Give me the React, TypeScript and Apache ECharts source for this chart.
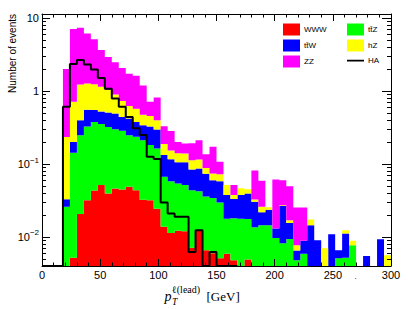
import React, { useEffect, useRef } from 'react';
import * as echarts from 'echarts';

// Histogram binning: 50 bins of 6 GeV from 0 to 300
const BIN_WIDTH = 6;
const X_MIN = 0;
const X_MAX = 300;
const Y_MIN = 0.004;
const Y_MAX = 11.4;

// Stacked backgrounds (bottom to top): WWW, ttZ, ttW, hZ, ZZ
const WWW = [0, 0, 0, 0, 0.0052, 0.0207, 0.032, 0.0434, 0.0514, 0.0395,
  0.0463, 0.0448, 0.0487, 0.0438, 0.0323, 0.032, 0.0243, 0.0138, 0.0113, 0.0122,
  0.012, 0.0071, 0.0124, 0.0066, 0.006, 0.0051, 0.0059, 0.0048, 0, 0.0049,
  0, 0, 0, 0, 0, 0, 0, 0, 0, 0,
  0, 0, 0, 0, 0, 0, 0, 0, 0, 0];
const TTZ = [0, 0, 0, 0.0259, 0.138, 0.228, 0.294, 0.333, 0.302, 0.282,
  0.253, 0.242, 0.2, 0.192, 0.18, 0.15, 0.139, 0.0529, 0.047, 0.042,
  0.0394, 0.0367, 0.0301, 0.0293, 0.0283, 0.0245, 0.0119, 0.0133, 0.0178, 0.0128,
  0.0136, 0.0145, 0.0145, 0.0097, 0.0082, 0.0094, 0.0048, 0.0059, 0, 0,
  0, 0, 0.0051, 0.0052, 0.0077, 0, 0, 0, 0, 0];
const TTW = [0, 0, 0, 0.0071, 0.0565, 0.151, 0.231, 0.173, 0.17, 0.186,
  0.192, 0.153, 0.173, 0.14, 0.129, 0.146, 0.134, 0.0658, 0.0584, 0.0513,
  0.0541, 0.0405, 0.0445, 0.0375, 0.0258, 0.0287, 0.0197, 0.0151, 0.0197, 0.0218,
  0.0167, 0.0074, 0.0092, 0.0034, 0.0183, 0.0062, 0.0017, 0.003, 0.0145, 0.009,
  0, 0.0109, 0.0015, 0.006, 0, 0, 0.0055, 0, 0.0093, 0];
const HZ = [0, 0, 0, 0.201, 0.513, 0.836, 0.71, 0.687, 0.619, 0.525,
  0.404, 0.289, 0.201, 0.199, 0.131, 0.126, 0.102, 0.055, 0.037, 0.0356,
  0.0342, 0.0288, 0.0286, 0.015, 0.0142, 0.0144, 0.0139, 0.0043, 0.0092, 0.0057,
  0.0023, 0.0041, 0.0019, 0, 0.0008, 0.0014, 0.0012, 0, 0.0029, 0,
  0.007, 0, 0, 0.0012, 0.0012, 0, 0, 0, 0, 0.0056];
const ZZ = [0, 0, 0, 1.77, 6.39, 6.15, 4.88, 3.9, 2.53, 1.9,
  1.59, 1.34, 1.11, 1.05, 0.717, 0.259, 0.42, 0.141, 0.13, 0.06,
  0.052, 0.08, 0.097, 0.048, 0.098, 0.0345, 0, 0.0139, 0, 0,
  0.049, 0.0332, 0, 0.0484, 0.0328, 0.0327, 0.0177, 0.0164, 0, 0,
  0, 0, 0, 0, 0, 0, 0, 0, 0, 0];
// Signal (line), bins 0..27
const HA = [0, 0, 0, 0.61, 2.35, 2.66, 2.31, 1.97, 1.51, 1.08,
  0.79, 0.61, 0.44, 0.31, 0.25, 0.126, 0.117, 0.0296, 0.021, 0.0189,
  0.0189, 0.0062, 0.0124, 0, 0.0062, 0, 0, 0];

const X_TICK_INTERVAL = 50;
const Y_MINOR_MANTISSAS = [2, 3, 4, 5, 6, 7, 8, 9];
const Y_DECADES = [-3, -2, -1, 0, 1];

const FONT = '"Liberation Sans", Arial, Helvetica, sans-serif';
const SERIF = '"Liberation Serif", "Times New Roman", serif';

// legend icon for the line entry: a thin horizontal bar centred in the item box
const LINE_ICON = 'path://M0,0L0.01,0L0,0.01Z M0,5L20,5L20,7L0,7Z M19.99,12L20,12L20,11.99Z';

const LAYERS = [
  { name: 'WWW', data: WWW, color: '#ff0000' },
  { name: 'tt\u0304Z', data: TTZ, color: '#00ff00' },
  { name: 'tt\u0304W', data: TTW, color: '#0000ff' },
  { name: 'hZ', data: HZ, color: '#ffff00' },
  { name: 'ZZ', data: ZZ, color: '#ff00ff' },
];

export default function App() {
  const ref = useRef<HTMLDivElement>(null);

  useEffect(() => {
    document.body.style.margin = '0';
    if (!ref.current) return;
    const chart = echarts.init(ref.current, undefined, { renderer: 'svg' });

    const nBins = WWW.length;
    const bases: number[][] = [];
    const tops: number[][] = [];
    let cum = new Array(nBins).fill(0);
    LAYERS.forEach((l, k) => {
      bases[k] = cum.slice();
      cum = cum.map((c, i) => c + l.data[i]);
      tops[k] = cum.slice();
    });
    const clamp = (v: number) => Math.min(Y_MAX, Math.max(Y_MIN, v));

    const layerSeries = LAYERS.map((l, k) => ({
      type: 'custom',
      name: l.name,
      data: [[X_MIN, Y_MIN]],
      itemStyle: { color: l.color },
      z: 2,
      renderItem: (_params: any, api: any) => {
        const pts: number[][] = [];
        for (let i = 0; i < nBins; i++) {
          const x0 = i * BIN_WIDTH;
          const t = clamp(tops[k][i]);
          pts.push(api.coord([x0, t]), api.coord([x0 + BIN_WIDTH, t]));
        }
        for (let i = nBins - 1; i >= 0; i--) {
          const x0 = i * BIN_WIDTH;
          const b = clamp(bases[k][i]);
          pts.push(api.coord([x0 + BIN_WIDTH, b]), api.coord([x0, b]));
        }
        return { type: 'polygon', shape: { points: pts }, style: { fill: l.color } };
      },
    }));

    const haPoints: number[][] = [];
    HA.forEach((v, i) => {
      const y = clamp(v);
      haPoints.push([i * BIN_WIDTH, y], [(i + 1) * BIN_WIDTH, y]);
    });

    const minorVals: number[][] = [];
    Y_DECADES.forEach((d) => Y_MINOR_MANTISSAS.forEach((m) => {
      const v = m * Math.pow(10, d);
      if (v > Y_MIN && v < Y_MAX) minorVals.push([X_MIN, v]);
    }));

    const yLabel = (v: number) => {
      const lg = Math.log10(v);
      const e = Math.round(lg);
      if (Math.abs(lg - e) > 1e-6) return '';
      if (e === 0) return '1';
      if (e === 1) return '10';
      return `{b|10}{s|\u2212${-e}}`;
    };

    const xAxisBase = {
      type: 'value',
      min: X_MIN,
      max: X_MAX,
      interval: X_TICK_INTERVAL,
      z: 20,
      axisLine: { show: true, onZero: false, lineStyle: { color: '#000', width: 1 } },
      axisTick: { show: true, inside: true, length: 7, lineStyle: { color: '#000', width: 1 } },
      minorTick: { show: true, splitNumber: 5, length: 3.5, lineStyle: { color: '#000', width: 1 } },
      splitLine: { show: false },
      minorSplitLine: { show: false },
    };
    const yAxisBase = {
      type: 'log',
      logBase: 10,
      min: Y_MIN,
      max: Y_MAX,
      z: 20,
      axisLine: { show: true, onZero: false, lineStyle: { color: '#000', width: 1 } },
      axisTick: { show: true, inside: true, length: 8, lineStyle: { color: '#000', width: 1 } },
      splitLine: { show: false },
    };

    const legendCommon = {
      orient: 'vertical', top: 23.5, padding: 0,
      itemWidth: 17, itemHeight: 12, itemGap: 4,
      selectedMode: false,
      textStyle: { fontSize: 8, color: '#000', fontFamily: FONT, padding: [0, 0, 0, -1] },
    };

    chart.setOption({
      animation: false,
      backgroundColor: '#fff',
      grid: { left: 42, right: 17, top: 14, bottom: 43, containLabel: false },
      xAxis: [
        {
          ...xAxisBase,
          position: 'bottom',
          axisLabel: { show: true, color: '#000', fontSize: 11, fontFamily: FONT, margin: 3 },
        },
        { ...xAxisBase, position: 'top', axisLabel: { show: false } },
      ],
      yAxis: [
        {
          ...yAxisBase,
          position: 'left',
          axisLabel: {
            show: true,
            color: '#000',
            fontSize: 11,
            fontFamily: FONT,
            margin: 3,
            showMinLabel: false,
            showMaxLabel: false,
            formatter: yLabel,
            rich: {
              b: { fontSize: 11, fontFamily: FONT, color: '#000', lineHeight: 16 },
              s: { fontSize: 8, fontFamily: FONT, color: '#000', lineHeight: 8, verticalAlign: 'top' },
            },
          },
        },
        { ...yAxisBase, position: 'right', axisTick: { ...yAxisBase.axisTick, length: 9 }, axisLabel: { show: false } },
      ],
      legend: [
        {
          ...legendCommon,
          left: 283,
          data: [
            { name: 'WWW', icon: 'rect' },
            { name: 'tt\u0304W', icon: 'rect' },
            { name: 'ZZ', icon: 'rect' },
          ],
        },
        {
          ...legendCommon,
          left: 347,
          data: [
            { name: 'tt\u0304Z', icon: 'rect' },
            { name: 'hZ', icon: 'rect' },
            { name: 'HA', icon: LINE_ICON },
          ],
        },
      ],
      series: [
        ...layerSeries,
        {
          type: 'line',
          name: 'HA',
          data: haPoints,
          symbol: 'none',
          z: 10,
          clip: true,
          lineStyle: { color: '#000', width: 2 },
          itemStyle: { color: '#000' },
        },
        {
          type: 'custom',
          name: 'yMinorTicks',
          data: minorVals,
          silent: true,
          z: 20,
          renderItem: (_params: any, api: any) => {
            const v = api.value(1);
            const pl = api.coord([X_MIN, v]);
            const pr = api.coord([X_MAX, v]);
            const y = Math.round(pl[1]) + 0.5;
            return {
              type: 'group',
              children: [
                { type: 'line', shape: { x1: pl[0], y1: y, x2: pl[0] + 4, y2: y }, style: { stroke: '#000', lineWidth: 1 } },
                { type: 'line', shape: { x1: pr[0] - 4, y1: y, x2: pr[0], y2: y }, style: { stroke: '#000', lineWidth: 1 } },
              ],
            };
          },
        },
      ],
      graphic: [
        {
          type: 'text', x: 12, y: 14, rotation: Math.PI / 2,
          style: { text: 'Number of events', font: `10px ${FONT}`, fill: '#000', align: 'right', verticalAlign: 'middle' },
        },
        {
          type: 'text', x: 164.5, y: 296,
          style: { text: 'p', font: `italic 14px ${SERIF}`, fill: '#000', align: 'left', verticalAlign: 'middle' },
        },
        {
          type: 'text', x: 172, y: 301.5,
          style: { text: 'T', font: `italic 9.5px ${SERIF}`, fill: '#000', align: 'left', verticalAlign: 'middle' },
        },
        {
          type: 'text', x: 172, y: 289.5,
          style: { text: '\u2113(lead)', font: `10px ${SERIF}`, fill: '#000', align: 'left', verticalAlign: 'middle' },
        },
        {
          type: 'text', x: 206.5, y: 296,
          style: { text: '[GeV]', font: `13px ${SERIF}`, fill: '#000', align: 'left', verticalAlign: 'middle' },
        },
        {
          type: 'text', x: 355.7, y: 280.5,
          style: { text: '.', font: `8px ${FONT}`, fill: '#000', align: 'center', verticalAlign: 'bottom' },
        },
      ],
    });

    return () => chart.dispose();
  }, []);

  return <div ref={ref} style={{ width: 408, height: 309 }} />;
}
